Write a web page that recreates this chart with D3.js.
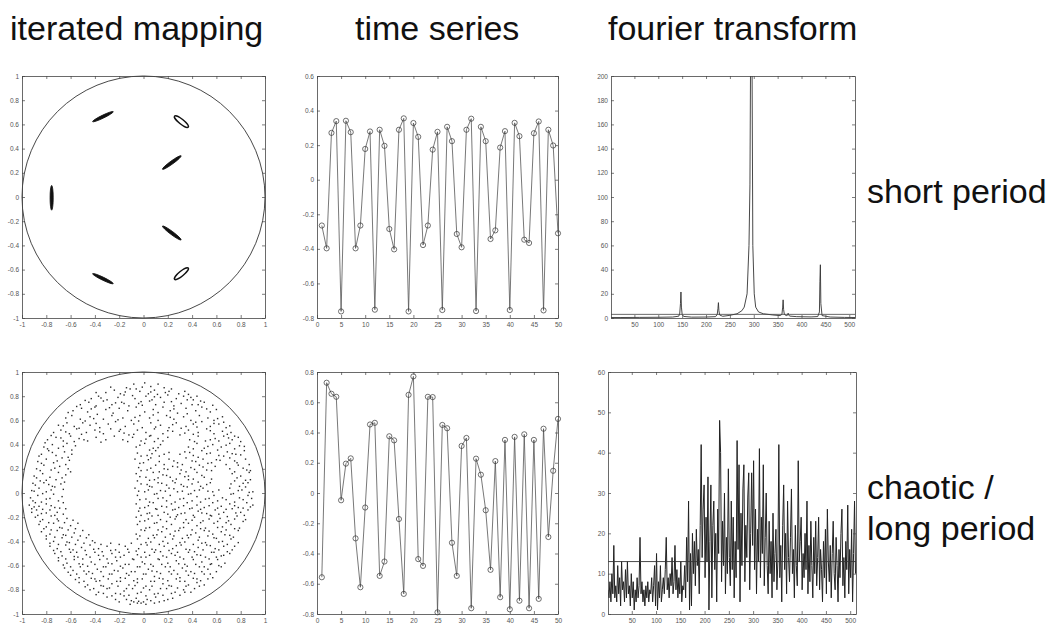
<!DOCTYPE html>
<html><head><meta charset="utf-8">
<script src="https://cdn.jsdelivr.net/npm/d3@7"></script>
<style>body{margin:0;background:#fff}svg{display:block}</style>
</head><body><svg id="fig" width="1054" height="625"></svg>
<script>
// ---------- column and row headings ----------
const columnTitles = ["iterated mapping", "time series", "fourier transform"];
const rowLabels = [["short period"], ["chaotic /", "long period"]];

// ---------- tick values ----------
const discTicks = [-1, -0.8, -0.6, -0.4, -0.2, 0, 0.2, 0.4, 0.6, 0.8, 1];
const seriesXTicks = [0, 5, 10, 15, 20, 25, 30, 35, 40, 45, 50];
const shortSeriesYTicks = [-0.8, -0.6, -0.4, -0.2, 0, 0.2, 0.4, 0.6];
const longSeriesYTicks = [-0.8, -0.6, -0.4, -0.2, 0, 0.2, 0.4, 0.6, 0.8];
const freqTicks = [50, 100, 150, 200, 250, 300, 350, 400, 450, 500];
const shortPowerTicks = [0, 20, 40, 60, 80, 100, 120, 140, 160, 180, 200];
const longPowerTicks = [0, 10, 20, 30, 40, 50, 60];

// ---------- short period: orbit islands of the map (end points, width, hollow) ----------
const islandX1 = [-0.756, -0.408, 0.271, 0.167, 0.167, 0.271, -0.408];
const islandY1 = [0.083, 0.628, 0.656, 0.237, -0.248, -0.667, -0.639];
const islandX2 = [-0.756, -0.260, 0.353, 0.299, 0.299, 0.353, -0.260];
const islandY2 = [-0.096, 0.700, 0.590, 0.333, -0.347, -0.600, -0.711];
const islandWidth = [0.026, 0.024, 0.04, 0.026, 0.026, 0.04, 0.024];
const islandHollow = [false, false, true, false, false, true, false];

// ---------- short period time series ----------
const shortSeries = [-0.265, -0.397, 0.271, 0.339, -0.762, 0.341, 0.275, -0.397, -0.265, 0.178,
  0.279, -0.752, 0.289, 0.196, -0.285, -0.403, 0.289, 0.355, -0.762, 0.328,
  0.248, -0.378, -0.265, 0.174, 0.277, -0.754, 0.306, 0.223, -0.314, -0.391,
  0.289, 0.353, -0.760, 0.306, 0.223, -0.343, -0.293, 0.186, 0.281, -0.754,
  0.329, 0.252, -0.347, -0.366, 0.269, 0.337, -0.756, 0.289, 0.198, -0.310];

// ---------- short period spectrum (frequency bin, magnitude) ----------
const shortFreq = [1, 20, 60, 100, 130, 143, 145, 146.5, 147.5, 148.5, 150, 153, 170, 200, 220, 223.5, 225, 226, 227, 228.5, 235,
  250, 265, 275, 280, 286, 290, 292, 293.5, 295, 296.5, 298, 301, 304, 310, 320, 340, 355, 359, 360.5, 361.5, 362.5, 364,
  368, 371, 372, 373, 375, 390, 420, 434, 437.5, 438.5, 439.5, 440.5, 443, 460, 490, 512];
const shortPower = [0.4, 0.4, 0.5, 0.6, 0.8, 1.5, 4, 12, 21.5, 9, 3, 1.3, 0.7, 0.8, 1.1, 3, 8, 12.7, 6, 2.5, 1.4,
  2.2, 3.5, 6, 9, 20, 60, 110, 230, 240, 200, 60, 20, 9, 5, 3.5, 2.5, 2, 3, 9, 15, 7, 3,
  2, 2.4, 4, 2.6, 1.6, 1.1, 0.9, 1.2, 5, 30, 44, 12, 2, 0.8, 0.5, 0.4];
const shortPowerLevel = 3;

// ---------- chaotic orbit of the map ----------
const chaoticPoints = [
  [-.14,.87],[-.08,.9],[-.06,.86],[.01,.91],[.06,.88],[.12,.9],[.17,.87],
  [-.31,.83],[-.24,.85],[-.19,.82],[-.11,.86],[-.03,.84],[.04,.82],[.09,.85],[.18,.83],[.23,.86],[.29,.82],[.34,.84],
  [-.43,.78],[-.37,.8],[-.3,.77],[-.21,.79],[-.16,.81],[-.07,.78],[.02,.8],[.07,.77],[.14,.79],[.2,.81],[.27,.78],[.33,.8],[.41,.77],[.44,.8],
  [-.52,.73],[-.45,.75],[-.39,.72],[-.33,.76],[-.26,.73],[-.18,.75],[-.12,.72],[-.04,.74],[.05,.76],[.1,.73],[.17,.75],[.25,.72],[.31,.74],[.36,.77],[.45,.73],[.5,.75],
  [-.58,.68],[-.51,.7],[-.46,.67],[-.4,.71],[-.31,.69],[-.25,.66],[-.2,.7],[-.13,.68],[-.06,.71],[.01,.67],[.08,.69],[.16,.71],[.22,.68],[.28,.66],[.35,.7],[.43,.68],[.48,.71],[.55,.67],[.6,.69],
  [-.64,.62],[-.59,.64],[-.52,.61],[-.44,.63],[-.38,.65],[-.33,.61],[-.26,.64],[-.17,.62],[-.1,.6],[-.03,.64],[.05,.62],[.12,.6],[.19,.64],[.25,.61],[.33,.63],[.39,.6],[.46,.64],[.53,.62],[.58,.6],[.65,.63],
  [-.7,.56],[-.63,.58],[-.57,.55],[-.5,.58],[-.44,.56],[-.36,.54],[-.29,.57],[-.23,.59],[-.15,.55],[-.08,.57],[-.01,.54],[.06,.58],[.14,.56],[.21,.54],[.27,.58],[.35,.55],[.41,.57],[.48,.59],[.55,.55],[.62,.57],[.68,.54],
  [-.74,.5],[-.68,.52],[-.61,.49],[-.55,.53],[-.47,.5],[-.4,.52],[-.33,.49],[-.27,.53],[-.2,.51],[-.12,.48],[-.05,.52],[.02,.5],[.09,.53],[.16,.49],[.24,.51],[.3,.48],[.37,.52],[.45,.5],[.52,.53],[.58,.49],[.65,.51],[.72,.5],
  [-.79,.44],[-.72,.46],[-.66,.43],[-.6,.47],[-.53,.45],[-.46,.43],[-.39,.46],[-.31,.44],[-.24,.47],[-.17,.44],[-.09,.46],[-.02,.43],[.05,.47],[.12,.45],[.2,.46],[.38,.44],[.45,.47],[.51,.43],[.59,.45],[.66,.47],[.73,.44],[.78,.46],
  [-.82,.38],[-.75,.4],[-.7,.37],[-.63,.41],[-.56,.39],[-.06,.38],[.01,.41],[.08,.37],[.14,.4],[.37,.38],[.44,.41],[.5,.37],[.57,.4],[.64,.38],[.71,.41],[.79,.39],
  [-.84,.32],[-.78,.35],[-.72,.31],[-.65,.34],[-.59,.32],[-.05,.33],[.03,.31],[.1,.35],[.17,.32],[.34,.34],[.41,.31],[.48,.35],[.55,.33],[.62,.31],[.69,.34],[.76,.32],[.83,.35],
  [-.87,.26],[-.8,.28],[-.74,.25],[-.67,.29],[-.61,.27],[-.07,.28],[0,.25],[.06,.29],[.13,.26],[.21,.28],[.28,.25],[.35,.29],[.43,.26],[.49,.28],[.56,.25],[.63,.27],[.71,.29],[.77,.25],[.84,.28],
  [-.88,.2],[-.82,.23],[-.76,.19],[-.69,.22],[-.62,.2],[-.04,.21],[.03,.19],[.1,.23],[.17,.2],[.24,.22],[.31,.19],[.39,.21],[.46,.23],[.52,.19],[.59,.22],[.71,.2],[.78,.23],[.85,.19],
  [-.9,.14],[-.83,.16],[-.77,.13],[-.7,.17],[-.64,.15],[-.06,.16],[.02,.13],[.08,.17],[.16,.15],[.22,.13],[.3,.16],[.37,.14],[.44,.17],[.5,.13],[.73,.16],[.8,.14],[.87,.17],
  [-.91,.08],[-.85,.1],[-.78,.07],[-.72,.11],[-.65,.09],[-.05,.1],[.03,.07],[.09,.11],[.15,.08],[.24,.1],[.31,.07],[.37,.11],[.45,.09],[.52,.07],[.75,.1],[.82,.08],[.88,.11],
  [-.92,.02],[-.86,.04],[-.8,.01],[-.73,.05],[-.66,.03],[-.07,.04],[.01,.01],[.07,.05],[.14,.02],[.21,.04],[.28,.01],[.36,.05],[.42,.02],[.49,.04],[.57,.01],[.71,.04],[.78,.02],[.84,.05],[.9,.01],
  [-.93,-.04],[-.87,-.02],[-.8,-.05],[-.74,-.01],[-.67,-.03],[-.05,-.02],[.02,-.05],[.09,-.01],[.16,-.04],[.22,-.02],[.3,-.05],[.37,-.01],[.44,-.03],[.51,-.05],[.58,-.02],[.65,-.04],[.72,-.01],[.79,-.04],[.86,-.02],
  [-.94,-.1],[-.92,-.13],[-.89,-.08],[-.86,-.11],[-.8,-.09],[-.73,-.12],[-.66,-.08],[-.06,-.09],[.01,-.12],[.08,-.08],[.15,-.11],[.23,-.09],[.29,-.12],[.36,-.08],[.44,-.1],[.5,-.12],[.57,-.08],[.64,-.11],[.71,-.09],[.78,-.12],[.85,-.08],[.9,-.1],
  [-.92,-.16],[-.88,-.14],[-.84,-.17],[-.77,-.14],[-.71,-.16],[-.64,-.13],[-.04,-.15],[.03,-.17],[.1,-.13],[.17,-.16],[.24,-.14],[.31,-.17],[.38,-.13],[.45,-.15],[.52,-.17],[.59,-.14],[.66,-.16],[.73,-.13],[.8,-.16],[.86,-.14],
  [-.89,-.2],[-.83,-.22],[-.76,-.19],[-.7,-.23],[-.63,-.21],[-.06,-.2],[.01,-.23],[.07,-.19],[.14,-.22],[.22,-.2],[.28,-.18],[.35,-.22],[.42,-.2],[.49,-.23],[.56,-.19],[.63,-.21],[.7,-.23],[.77,-.19],[.84,-.22],
  [-.86,-.26],[-.8,-.28],[-.74,-.25],[-.67,-.29],[-.6,-.27],[-.54,-.25],[-.05,-.26],[.02,-.29],[.09,-.25],[.16,-.28],[.23,-.26],[.3,-.29],[.37,-.25],[.44,-.27],[.51,-.29],[.58,-.25],[.65,-.28],[.72,-.26],[.79,-.29],
  [-.84,-.32],[-.77,-.34],[-.71,-.31],[-.64,-.35],[-.57,-.33],[-.5,-.31],[-.06,-.34],[.01,-.31],[.08,-.35],[.15,-.32],[.22,-.34],[.29,-.31],[.36,-.35],[.43,-.33],[.5,-.31],[.57,-.34],[.64,-.32],[.71,-.35],[.78,-.31],
  [-.8,-.38],[-.74,-.4],[-.67,-.37],[-.61,-.41],[-.54,-.39],[-.47,-.37],[-.4,-.41],[-.05,-.38],[.02,-.41],[.09,-.37],[.16,-.4],[.24,-.38],[.3,-.41],[.37,-.37],[.45,-.39],[.51,-.41],[.58,-.37],[.65,-.4],[.72,-.38],[.78,-.41],
  [-.77,-.44],[-.71,-.46],[-.64,-.43],[-.58,-.47],[-.51,-.45],[-.44,-.43],[-.37,-.46],[-.3,-.44],[-.23,-.47],[-.15,-.44],[-.04,-.46],[.03,-.43],[.1,-.47],[.17,-.44],[.24,-.46],[.31,-.43],[.38,-.47],[.45,-.45],[.52,-.43],[.59,-.46],[.66,-.44],[.73,-.47],
  [-.73,-.5],[-.67,-.52],[-.6,-.49],[-.54,-.53],[-.47,-.51],[-.4,-.49],[-.33,-.52],[-.26,-.5],[-.19,-.53],[-.12,-.49],[-.05,-.51],[.02,-.53],[.09,-.49],[.16,-.52],[.23,-.5],[.3,-.53],[.37,-.49],[.44,-.51],[.51,-.53],[.58,-.49],[.64,-.52],[.71,-.5],
  [-.7,-.56],[-.63,-.58],[-.57,-.55],[-.5,-.59],[-.43,-.57],[-.36,-.55],[-.29,-.58],[-.22,-.56],[-.15,-.59],[-.08,-.55],[-.01,-.57],[.06,-.59],[.13,-.55],[.2,-.58],[.27,-.56],[.34,-.59],[.41,-.55],[.48,-.57],[.55,-.59],[.61,-.55],[.67,-.58],
  [-.65,-.62],[-.58,-.64],[-.52,-.61],[-.45,-.65],[-.38,-.63],[-.31,-.61],[-.24,-.64],[-.17,-.62],[-.1,-.65],[-.03,-.61],[.04,-.63],[.11,-.65],[.18,-.61],[.25,-.64],[.32,-.62],[.39,-.65],[.46,-.61],[.53,-.63],[.6,-.65],[.64,-.61],
  [-.6,-.68],[-.53,-.7],[-.47,-.67],[-.4,-.71],[-.33,-.69],[-.26,-.67],[-.19,-.7],[-.12,-.68],[-.05,-.71],[.02,-.67],[.09,-.69],[.16,-.71],[.23,-.67],[.3,-.7],[.37,-.68],[.44,-.71],[.5,-.67],[.57,-.7],
  [-.53,-.74],[-.46,-.76],[-.39,-.73],[-.33,-.77],[-.26,-.75],[-.19,-.73],[-.12,-.76],[-.05,-.74],[.02,-.77],[.09,-.73],[.16,-.75],[.23,-.77],[.3,-.73],[.37,-.76],[.44,-.74],[.5,-.76],
  [-.44,-.8],[-.37,-.82],[-.3,-.79],[-.23,-.83],[-.16,-.81],[-.09,-.79],[-.02,-.82],[.05,-.8],[.12,-.83],[.19,-.79],[.26,-.82],[.33,-.8],[.39,-.82],
  [-.3,-.86],[-.23,-.88],[-.16,-.85],[-.1,-.89],[-.06,-.87],[-.02,-.91],[.03,-.88],[.1,-.86],[.17,-.89],[.24,-.87],
  [-.11,-.92],[-.05,-.91],[.02,-.92],[.09,-.91],
  // second pass through the same bands
  [-.27,.875],[-.15,.835],[-.01,.875],[.115,.815],[.21,.84],[.37,.815],[-.39,.83],[.06,.835],
  [-.48,.765],[-.35,.785],[-.23,.745],[-.09,.805],[.09,.795],[.23,.755],[.39,.79],[.47,.76],[-.02,.755],
  [-.55,.715],[-.43,.695],[-.28,.705],[-.16,.74],[-.01,.725],[.12,.665],[.25,.695],[.4,.73],[.52,.695],[.57,.725],
  [-.62,.665],[-.48,.595],[-.41,.615],[-.21,.605],[-.07,.625],[.08,.645],[.22,.625],[.36,.655],[.43,.585],[.61,.615],[.66,.585],
  [-.66,.555],[-.53,.535],[-.39,.575],[-.19,.525],[-.04,.595],[.1,.545],[.24,.565],[.31,.535],[.44,.545],[.58,.575],[.71,.555],
  [-.76,.475],[-.64,.505],[-.51,.485],[-.36,.505],[-.16,.495],[-.08,.485],[.06,.475],[.2,.515],[.34,.495],[.41,.485],[.55,.515],[.69,.485],[.75,.47],
  [-.81,.415],[-.68,.455],[-.57,.425],[-.49,.44],[-.35,.42],[-.13,.425],[.02,.445],[.09,.425],[.16,.43],[.42,.425],[.55,.44],[.62,.43],[.7,.455],[.8,.425],
  [-.79,.365],[-.66,.385],[-.59,.355],[-.03,.395],[.05,.355],[.12,.375],[.41,.365],[.53,.385],[.61,.355],[.68,.395],[.75,.365],[.83,.385],
  [-.86,.305],[-.75,.335],[-.62,.295],[-.02,.305],[.07,.325],[.13,.305],[.21,.335],[.3,.32],[.38,.335],[.45,.295],[.52,.325],[.66,.305],[.73,.325],[.8,.315],
  [-.84,.245],[-.71,.265],[-.64,.235],[-.03,.245],[.04,.275],[.17,.235],[.25,.265],[.32,.235],[.4,.265],[.53,.245],[.6,.275],[.68,.235],[.75,.265],[.87,.235],
  [-.85,.185],[-.73,.205],[-.6,.175],[-.02,.185],[.06,.205],[.13,.175],[.2,.195],[.28,.215],[.35,.175],[.42,.195],[.49,.215],[.56,.185],[.75,.175],[.82,.205],[.88,.185],
  [-.88,.125],[-.8,.105],[-.67,.125],[-.03,.135],[.05,.105],[.12,.125],[.19,.145],[.27,.115],[.34,.135],[.41,.115],[.48,.145],[.56,.115],[.77,.125],[.84,.105],
  [-.89,.065],[-.82,.085],[-.75,.055],[-.68,.075],[-.02,.075],[.05,.055],[.12,.085],[.19,.065],[.26,.085],[.33,.055],[.4,.075],[.47,.055],[.55,.085],[.72,.075],[.79,.055],[.86,.085],
  [-.9,.015],[-.83,-.005],[-.76,.025],[-.04,.015],[.04,.025],[.11,-.005],[.18,.015],[.25,.035],[.32,.015],[.39,-.005],[.46,.025],[.53,.015],[.62,.025],[.74,-.005],[.81,.025],[.87,.005],
  [-.91,-.065],[-.84,-.075],[-.77,-.045],[-.7,-.065],[-.03,-.055],[.05,-.075],[.12,-.045],[.19,-.065],[.26,-.075],[.33,-.045],[.4,-.065],[.47,-.075],[.54,-.045],[.61,-.065],[.68,-.055],[.75,-.075],[.82,-.055],[.89,-.045],
  [-.9,-.115],[-.83,-.135],[-.76,-.105],[-.69,-.125],[-.03,-.125],[.04,-.105],[.11,-.135],[.19,-.115],[.26,-.135],[.33,-.105],[.4,-.125],[.47,-.135],[.54,-.105],[.61,-.125],[.68,-.135],[.75,-.105],[.82,-.125],[.88,-.115],
  [-.87,-.185],[-.8,-.165],[-.73,-.185],[-.66,-.175],[-.02,-.185],[.05,-.165],[.12,-.185],[.2,-.175],[.27,-.195],[.34,-.165],[.41,-.185],[.48,-.165],[.55,-.185],[.62,-.175],[.69,-.195],[.76,-.165],[.83,-.185],
  [-.85,-.235],[-.78,-.245],[-.71,-.215],[-.65,-.245],[-.58,-.225],[-.03,-.235],[.04,-.215],[.11,-.245],[.19,-.235],[.26,-.215],[.33,-.245],[.4,-.225],[.47,-.245],[.54,-.215],[.61,-.235],[.68,-.245],[.75,-.215],[.82,-.235],
  [-.82,-.295],[-.76,-.305],[-.69,-.285],[-.62,-.305],[-.56,-.295],[-.02,-.305],[.05,-.285],[.12,-.305],[.19,-.295],[.26,-.315],[.33,-.285],[.4,-.305],[.47,-.295],[.54,-.315],[.61,-.285],[.68,-.305],[.75,-.295],
  [-.8,-.355],[-.73,-.365],[-.66,-.345],[-.59,-.365],[-.52,-.355],[-.45,-.345],[-.03,-.355],[.04,-.375],[.11,-.345],[.18,-.365],[.25,-.355],[.32,-.375],[.39,-.345],[.46,-.365],[.53,-.355],[.6,-.375],[.67,-.345],[.74,-.365],
  [-.77,-.415],[-.7,-.425],[-.63,-.405],[-.56,-.425],[-.49,-.415],[-.42,-.395],[-.35,-.425],[-.27,-.415],[-.2,-.425],[-.1,-.415],[-.02,-.425],[.06,-.405],[.13,-.425],[.2,-.415],[.27,-.435],[.34,-.405],[.41,-.425],[.48,-.415],[.55,-.435],[.62,-.405],[.69,-.425],[.75,-.44],
  [-.74,-.475],[-.68,-.485],[-.61,-.465],[-.55,-.49],[-.48,-.475],[-.41,-.465],[-.34,-.485],[-.27,-.475],[-.2,-.49],[-.13,-.465],[-.06,-.48],[.01,-.49],[.07,-.465],[.14,-.485],[.21,-.475],[.28,-.49],[.35,-.465],[.42,-.485],[.49,-.47],[.56,-.49],[.62,-.47],[.69,-.485],
  [-.7,-.535],[-.64,-.545],[-.57,-.525],[-.5,-.545],[-.44,-.53],[-.37,-.515],[-.3,-.545],[-.23,-.53],[-.16,-.515],[-.09,-.545],[-.02,-.53],[.05,-.515],[.12,-.545],[.19,-.53],[.26,-.515],[.33,-.545],[.4,-.53],[.47,-.515],[.54,-.545],[.6,-.53],[.66,-.515],
  [-.66,-.595],[-.6,-.61],[-.53,-.585],[-.46,-.605],[-.4,-.59],[-.33,-.61],[-.26,-.585],[-.19,-.605],[-.12,-.59],[-.05,-.61],[.01,-.585],[.08,-.605],[.15,-.59],[.22,-.61],[.29,-.585],[.36,-.605],[.43,-.59],[.5,-.61],[.56,-.585],[.62,-.6],
  [-.62,-.655],[-.55,-.67],[-.49,-.645],[-.42,-.665],[-.35,-.65],[-.28,-.67],[-.21,-.645],[-.14,-.665],[-.07,-.65],[0,-.67],[.07,-.645],[.14,-.665],[.21,-.65],[.28,-.67],[.35,-.645],[.42,-.665],[.48,-.65],[.55,-.67],
  [-.56,-.715],[-.49,-.73],[-.43,-.705],[-.36,-.725],[-.29,-.71],[-.22,-.73],[-.15,-.705],[-.08,-.725],[-.01,-.71],[.06,-.73],[.13,-.705],[.2,-.725],[.27,-.71],[.34,-.73],[.41,-.705],[.47,-.725],[.53,-.71],
  [-.48,-.775],[-.41,-.79],[-.35,-.765],[-.28,-.785],[-.21,-.77],[-.14,-.79],[-.07,-.765],[0,-.785],[.07,-.77],[.14,-.79],[.21,-.765],[.28,-.785],[.35,-.77],[.42,-.79],[.46,-.77],
  [-.39,-.84],[-.33,-.83],[-.26,-.85],[-.19,-.835],[-.12,-.845],[-.05,-.83],[.02,-.85],[.09,-.835],[.16,-.845],[.23,-.83],[.3,-.845],[.34,-.82],
  [-.2,-.9],[-.14,-.88],[-.08,-.9],[-.04,-.895],[0,-.9],[.06,-.89],[.13,-.9],[.2,-.88]
];

// ---------- chaotic time series ----------
const longSeries = [-0.557, 0.729, 0.656, 0.636, -0.048, 0.194, 0.229, -0.300, -0.623, -0.096,
  0.453, 0.464, -0.548, -0.453, 0.375, 0.348, -0.172, -0.667, 0.649, 0.771,
  -0.437, -0.482, 0.636, 0.634, -0.789, 0.450, 0.428, -0.329, -0.548, 0.311,
  0.364, -0.762, 0.227, 0.121, -0.114, -0.508, 0.211, -0.689, 0.351, -0.769,
  0.371, -0.712, 0.388, -0.762, 0.351, -0.700, 0.425, -0.291, 0.147, 0.490];

// ---------- chaotic spectrum, every second bin from 1 to 511 ----------
const longPower = [
  6, 4, 8, 3, 10, 5, 17, 4, 7, 3,
  12, 5, 9, 2, 13, 6, 8, 3, 11, 4,
  13, 5, 7, 2, 10, 4, 8, 1, 6, 3,
  9, 4, 7, 19, 5, 8, 3, 6, 2, 7,
  4, 8, 3, 6, 5, 9, 3, 7, 12, 2,
  15, 1, 8, 4, 12, 3, 6, 9, 5, 11,
  19, 6, 9, 4, 10, 7, 14, 5, 8, 17,
  6, 11, 4, 9, 5, 13, 3, 7, 6, 12,
  4, 19, 8, 28, 1, 15, 2, 20, 10, 18,
  7, 21, 12, 16, 5, 22, 42, 14, 26, 32,
  9, 24, 13, 34, 1, 18, 32, 4, 22, 28,
  11, 20, 3, 26, 15, 48, 40, 8, 23, 12,
  30, 5, 19, 10, 36, 14, 7, 28, 11, 24,
  4, 18, 9, 43, 16, 37, 3, 25, 12, 31,
  37, 8, 22, 14, 29, 35, 6, 20, 35, 17,
  38, 11, 26, 5, 21, 13, 41, 9, 24, 15,
  37, 7, 19, 30, 12, 5, 23, 10, 18, 4,
  25, 8, 15, 21, 6, 13, 42, 9, 17, 3,
  22, 32, 11, 20, 5, 28, 14, 8, 19, 31,
  10, 16, 4, 22, 12, 7, 38, 13, 18, 24,
  6, 15, 9, 20, 11, 28, 5, 17, 8, 23,
  12, 4, 19, 10, 23, 7, 14, 24, 6, 16,
  11, 3, 18, 9, 21, 5, 26, 13, 8, 17,
  4, 15, 23, 10, 6, 19, 12, 3, 16, 9,
  20, 26, 7, 14, 4, 18, 11, 27, 5, 16,
  9, 21, 3, 15, 28, 10];
const longPowerLevel = 13;

// ---------- drawing ----------
const svg = d3.select("#fig");
const axisInk = "#444";
const labelInk = "#555";
const numFmt = d => String(Math.round(d * 10) / 10);

// boxed axes with inward ticks on all four sides, labels on left and bottom
function frame(g, x, y, xTicks, yTicks) {
  const [x0, x1] = x.range();
  const [y0, y1] = y.range();
  const tick = 3;
  const style = sel => {
    sel.select(".domain").attr("stroke", axisInk).attr("stroke-width", 0.8);
    sel.selectAll(".tick line").attr("stroke", axisInk).attr("stroke-width", 0.7);
    sel.selectAll("text").attr("fill", labelInk).attr("font-size", 6.5)
      .attr("font-family", "Liberation Sans, Arial, sans-serif");
  };
  g.append("g").attr("transform", `translate(0,${y0})`)
    .call(d3.axisBottom(x).tickValues(xTicks).tickSizeInner(-tick).tickSizeOuter(0).tickPadding(4).tickFormat(numFmt)).call(style);
  g.append("g").attr("transform", `translate(0,${y1})`)
    .call(d3.axisTop(x).tickValues(xTicks).tickSizeInner(-tick).tickSizeOuter(0).tickFormat("")).call(style);
  g.append("g").attr("transform", `translate(${x0},0)`)
    .call(d3.axisLeft(y).tickValues(yTicks).tickSizeInner(-tick).tickSizeOuter(0).tickPadding(3).tickFormat(numFmt)).call(style);
  g.append("g").attr("transform", `translate(${x1},0)`)
    .call(d3.axisRight(y).tickValues(yTicks).tickSizeInner(-tick).tickSizeOuter(0).tickFormat("")).call(style);
  g.selectAll(".domain").attr("fill", "none");
}

function clipTo(id, x, y) {
  const [x0, x1] = x.range();
  const [y0, y1] = y.range();
  svg.append("clipPath").attr("id", id).append("rect")
    .attr("x", x0).attr("y", y1).attr("width", x1 - x0).attr("height", y0 - y1);
  return `url(#${id})`;
}

// unit circle bounding the map
function unitCircle(g, x, y) {
  g.append("ellipse").attr("cx", x(0)).attr("cy", y(0))
    .attr("rx", x(1) - x(0)).attr("ry", y(0) - y(1))
    .attr("fill", "none").attr("stroke", "#333").attr("stroke-width", 0.9);
}

// panel rows
const rowTop = [76, 372];
const rowBottom = [318, 614];

// ---- panel: short period map ----
{
  const x = d3.scaleLinear([-1, 1], [22, 265]);
  const y = d3.scaleLinear([-1, 1], [rowBottom[0], rowTop[0]]);
  const g = svg.append("g");
  unitCircle(g, x, y);
  islandX1.forEach((_, i) => {
    const ax = x(islandX1[i]), ay = y(islandY1[i]);
    const bx = x(islandX2[i]), by = y(islandY2[i]);
    const len = Math.hypot(bx - ax, by - ay);
    const ang = Math.atan2(by - ay, bx - ax) * 180 / Math.PI;
    const w = (x(islandWidth[i]) - x(0)) / 2;
    g.append("ellipse")
      .attr("transform", `translate(${(ax + bx) / 2},${(ay + by) / 2}) rotate(${ang})`)
      .attr("rx", len / 2 + w).attr("ry", w)
      .attr("fill", islandHollow[i] ? "none" : "#111")
      .attr("stroke", "#111").attr("stroke-width", islandHollow[i] ? 1.5 : 0.8);
  });
  frame(g, x, y, discTicks, discTicks);
}

// ---- panel: short period time series ----
{
  const x = d3.scaleLinear([0, 50], [317, 558]);
  const y = d3.scaleLinear([-0.8, 0.6], [rowBottom[0], rowTop[0]]);
  const g = svg.append("g");
  const pts = shortSeries.map((v, i) => [i + 1, v]);
  g.append("path").datum(pts)
    .attr("d", d3.line().x(d => x(d[0])).y(d => y(d[1])))
    .attr("fill", "none").attr("stroke", "#555").attr("stroke-width", 0.8);
  g.selectAll("circle").data(pts).join("circle")
    .attr("cx", d => x(d[0])).attr("cy", d => y(d[1])).attr("r", 2.6)
    .attr("fill", "none").attr("stroke", "#333").attr("stroke-width", 0.7);
  frame(g, x, y, seriesXTicks, shortSeriesYTicks);
}

// ---- panel: short period spectrum ----
{
  const x = d3.scaleLinear([1, 512], [611, 855]);
  const y = d3.scaleLinear([0, 200], [rowBottom[0], rowTop[0]]);
  const g = svg.append("g");
  const body = g.append("g").attr("clip-path", clipTo("clipShort", x, y));
  body.append("path").datum(shortFreq.map((f, i) => [f, shortPower[i]]))
    .attr("d", d3.line().x(d => x(d[0])).y(d => y(d[1])))
    .attr("fill", "none").attr("stroke", "#333").attr("stroke-width", 0.9);
  body.append("line").attr("x1", x(1)).attr("x2", x(512))
    .attr("y1", y(shortPowerLevel)).attr("y2", y(shortPowerLevel))
    .attr("stroke", "#444").attr("stroke-width", 0.8);
  frame(g, x, y, freqTicks, shortPowerTicks);
}

// ---- panel: chaotic map ----
{
  const x = d3.scaleLinear([-1, 1], [22, 265]);
  const y = d3.scaleLinear([-1, 1], [rowBottom[1], rowTop[1]]);
  const g = svg.append("g");
  unitCircle(g, x, y);
  g.selectAll("rect.pt").data(chaoticPoints).join("rect").attr("class", "pt")
    .attr("x", d => x(d[0]) - 0.7).attr("y", d => y(d[1]) - 0.7)
    .attr("width", 1.4).attr("height", 1.4).attr("fill", "#2a2a2a");
  frame(g, x, y, discTicks, discTicks);
}

// ---- panel: chaotic time series ----
{
  const x = d3.scaleLinear([0, 50], [317, 558]);
  const y = d3.scaleLinear([-0.8, 0.8], [rowBottom[1], rowTop[1]]);
  const g = svg.append("g");
  const pts = longSeries.map((v, i) => [i + 1, v]);
  g.append("path").datum(pts)
    .attr("d", d3.line().x(d => x(d[0])).y(d => y(d[1])))
    .attr("fill", "none").attr("stroke", "#555").attr("stroke-width", 0.8);
  g.selectAll("circle").data(pts).join("circle")
    .attr("cx", d => x(d[0])).attr("cy", d => y(d[1])).attr("r", 2.6)
    .attr("fill", "none").attr("stroke", "#333").attr("stroke-width", 0.7);
  frame(g, x, y, seriesXTicks, longSeriesYTicks);
}

// ---- panel: chaotic spectrum ----
{
  const x = d3.scaleLinear([1, 512], [608, 856]);
  const y = d3.scaleLinear([0, 60], [rowBottom[1], rowTop[1]]);
  const g = svg.append("g");
  const body = g.append("g").attr("clip-path", clipTo("clipLong", x, y));
  body.append("path").datum(longPower.map((v, i) => [1 + 2 * i, v]))
    .attr("d", d3.line().x(d => x(d[0])).y(d => y(d[1])))
    .attr("fill", "none").attr("stroke", "#222").attr("stroke-width", 1);
  body.append("line").attr("x1", x(1)).attr("x2", x(512))
    .attr("y1", y(longPowerLevel)).attr("y2", y(longPowerLevel))
    .attr("stroke", "#333").attr("stroke-width", 0.9);
  frame(g, x, y, freqTicks, longPowerTicks);
}

// ---- headings ----
const font = "Liberation Sans, Arial, Helvetica, sans-serif";
const titleX = [10, 355, 608];
svg.selectAll("text.title").data(columnTitles).join("text").attr("class", "title")
  .attr("x", (d, i) => titleX[i]).attr("y", 40)
  .attr("font-family", font).attr("font-size", 34).attr("fill", "#111")
  .text(d => d);

const rowLabelY = [203, 499];
rowLabels.forEach((lines, r) => {
  lines.forEach((line, k) => {
    svg.append("text").attr("x", 867).attr("y", rowLabelY[r] + k * 41)
      .attr("font-family", font).attr("font-size", 34).attr("fill", "#111")
      .text(line);
  });
});
</script></body></html>
